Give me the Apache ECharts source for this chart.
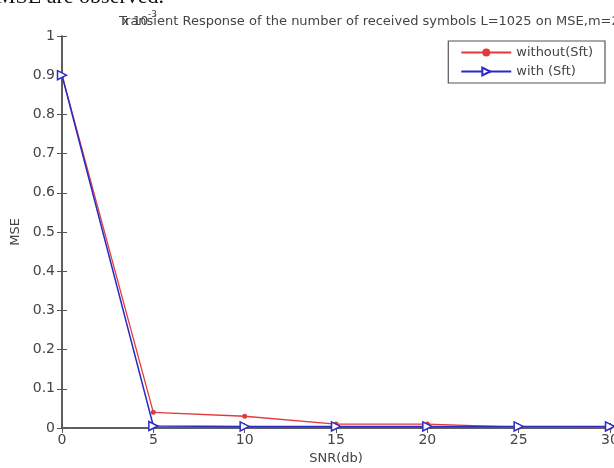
<!DOCTYPE html>
<html>
<head>
<meta charset="utf-8">
<script src="https://cdn.jsdelivr.net/npm/echarts@6/dist/echarts.min.js"></script>
<style>
  html, body { margin: 0; padding: 0; background: #fff; }
  #chart { width: 614px; height: 468px; }
</style>
</head>
<body>
<div id="chart"></div>
<script>
// SNR 各点 (db)
const snr = [0, 5, 10, 15, 20, 25, 30];
// 两条曲线 (单位 x10^-3)
const withoutSft = [0.9, 0.04, 0.03, 0.01, 0.01, 0.002, 0.001];
const withSft = [0.9, 0.005, 0.004, 0.004, 0.004, 0.004, 0.004];

const toPairs = arr => arr.map((v, i) => [snr[i], v]);

const myChart = echarts.init(document.getElementById('chart'));

const axisGray = '#555';
const textGray = '#444';
const font = 'DejaVu Sans, Arial, sans-serif';

const option = {
  animation: false,
  textStyle: { fontFamily: font },
  title: {
    text: 'Transient Response of the number of received symbols L=1025 on MSE,m=2',
    left: 114,
    top: 10,
    textStyle: { fontSize: 13, fontWeight: 'normal', color: textGray, fontFamily: font },
  },
  graphic: [
    {
      // 论文正文残留
      type: 'text',
      left: -4,
      top: -14,
      style: { text: 'MSE are observed.', font: '22px Liberation Serif', fill: '#111' },
    },
    {
      type: 'text',
      left: 122,
      top: 16,
      style: { text: 'x 10', font: '12px DejaVu Sans', fill: textGray },
    },
    {
      type: 'text',
      left: 148,
      top: 10,
      style: { text: '-3', font: '9px DejaVu Sans', fill: textGray },
    },
  ],
  legend: {
    orient: 'vertical',
    right: 9,
    top: 41,
    itemWidth: 50,
    itemHeight: 10,
    itemGap: 6,
    padding: [5, 12, 5, 12],
    borderColor: axisGray,
    borderWidth: 1.2,
    backgroundColor: '#fff',
    textStyle: { fontSize: 13, color: textGray },
    data: ['without(Sft)', 'with (Sft)'],
  },
  grid: { left: 62, right: 4, top: 36, bottom: 40, outerBoundsMode: 'none' },
  xAxis: [
    {
      type: 'value',
      min: 0,
      max: 30,
      interval: 5,
      name: 'SNR(db)',
      nameLocation: 'middle',
      nameGap: 22,
      nameTextStyle: { fontSize: 13, color: textGray },
      axisLine: { lineStyle: { color: axisGray, width: 1.5 } },
      axisTick: { inside: true, length: 5, lineStyle: { color: axisGray } },
      axisLabel: { fontSize: 14, color: textGray, margin: 5 },
      splitLine: { show: false },
    },
    {
      type: 'value',
      position: 'top',
      min: 0,
      max: 30,
      interval: 5,
      axisLine: { lineStyle: { color: axisGray, width: 1.5 } },
      axisTick: { inside: true, length: 5, lineStyle: { color: axisGray } },
      axisLabel: { show: false },
      splitLine: { show: false },
    },
  ],
  yAxis: [
    {
      type: 'value',
      min: 0,
      max: 1,
      interval: 0.1,
      name: 'MSE',
      nameLocation: 'middle',
      nameGap: 38,
      nameTextStyle: { fontSize: 13, color: textGray },
      axisLine: { show: true, lineStyle: { color: axisGray, width: 1.5 } },
      axisTick: { show: true, inside: true, length: 5, lineStyle: { color: axisGray } },
      axisLabel: {
        fontSize: 14,
        color: textGray,
        margin: 7,
        formatter: v => String(+v.toFixed(1)),
      },
      splitLine: { show: false },
    },
    {
      type: 'value',
      position: 'right',
      min: 0,
      max: 1,
      interval: 0.1,
      axisLine: { show: true, lineStyle: { color: axisGray, width: 1.5 } },
      axisTick: { show: true, inside: true, length: 5, lineStyle: { color: axisGray } },
      axisLabel: { show: false },
      splitLine: { show: false },
    },
  ],
  series: [
    {
      name: 'without(Sft)',
      type: 'line',
      data: toPairs(withoutSft),
      symbol: 'circle',
      symbolSize: 5,
      itemStyle: { color: '#e23a3a' },
      lineStyle: { color: '#e23a3a', width: 1.3 },
      z: 2,
    },
    {
      name: 'with (Sft)',
      type: 'line',
      data: toPairs(withSft),
      symbol: 'triangle',
      symbolRotate: -90,
      symbolSize: 9,
      itemStyle: { color: '#fff', borderColor: '#2b2bc4', borderWidth: 1.5 },
      lineStyle: { color: '#2b2bc4', width: 1.5 },
      z: 3,
    },
  ],
};

myChart.setOption(option);
</script>
</body>
</html>
